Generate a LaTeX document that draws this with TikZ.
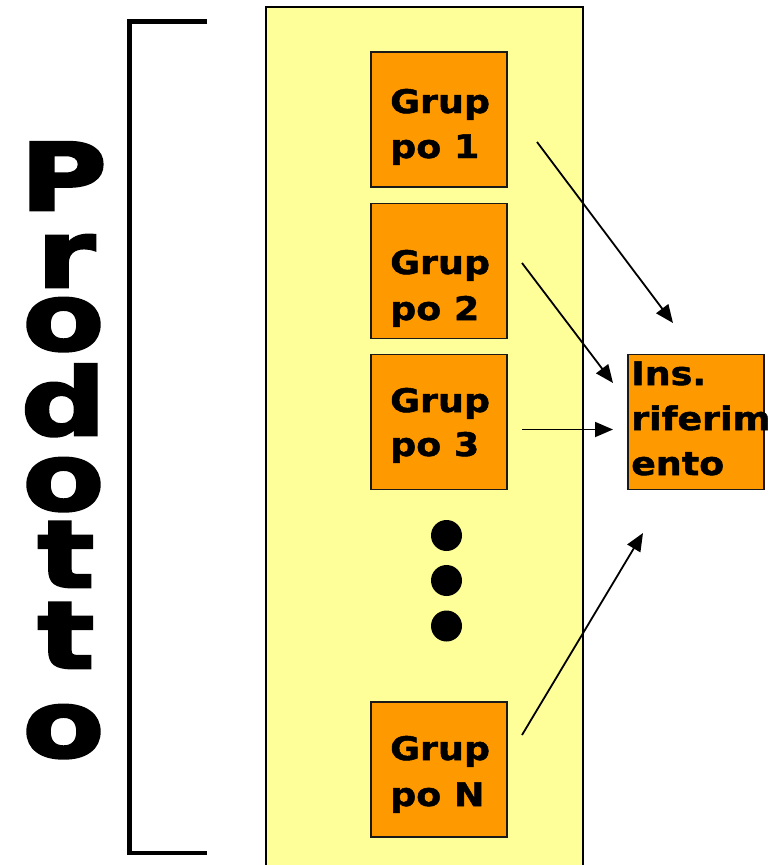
\documentclass[tikz,border=0pt]{standalone}
\usepackage{fontspec}
\setmainfont{DejaVu Sans}
\newfontfamily\boxfont{DejaVu Sans}[FakeStretch=1.12,FakeBold=1.5]
\newfontfamily\bigfont{DejaVu Sans}[FakeStretch=1.28,FakeBold=3]
\usetikzlibrary{arrows.meta}
\definecolor{panel}{HTML}{FFFF99}
\definecolor{grp}{HTML}{FF9900}
\begin{document}
\begin{tikzpicture}[x=1pt,y=-1pt,
  grpbox/.style={draw=black!90,line width=1.8pt,fill=grp,minimum width=136pt,minimum height=135pt,inner sep=0pt},
  txt/.style={font=\boxfont\bfseries\fontsize{32.5}{45}\selectfont,inner sep=0pt,anchor=base west},
  letter/.style={font=\bigfont\bfseries\fontsize{93}{93}\selectfont,inner sep=0pt,anchor=base,text depth=0pt},
  tall/.style={letter,text height=68pt},
  short/.style={letter,text height=52pt},
  dot/.style={circle,fill=black,minimum size=31pt,inner sep=0pt},
  arr/.style={line width=1.8pt,-{Triangle[length=18pt,width=15pt]}}]
\useasboundingbox (0,0) rectangle (777,865);
% bracket
\coordinate (bt) at (207,21.5);
\coordinate (btl) at (129.5,21.5);
\coordinate (bbl) at (129.5,853);
\coordinate (bb) at (207,853);
\draw[line width=4.5pt] (bt) -- (btl) -- (bbl) -- (bb);
% panel
\node[draw=black,line width=1.5pt,fill=panel,minimum width=317pt,minimum height=880pt,inner sep=0pt,anchor=north west] (panel) at (265,6) {};
% letters
\node[tall] (l1) at (63.5,210) {P};
\node[short] (l2) at (66,287) {r};
\node[short] (l3) at (63.5,350) {o};
\node[tall] (l4) at (63.5,435) {d};
\node[short] (l5) at (63.5,510) {o};
\node[short] (l6) at (66,587) {t};
\node[short] (l7) at (66,668) {t};
\node[short] (l8) at (63.5,757) {o};
% group boxes
\node[grpbox] (g1) at (439,119.5) {};
\node[grpbox] (g2) at (439,271) {};
\node[grpbox] (g3) at (439,422) {};
\node[grpbox] (gN) at (439,769.5) {};
\node[grpbox] (ins) at (696,422) {};
\node[txt] (g1a) at (390,113) {Grup};
\node[txt] (g1b) at (390,158) {po 1};
\node[txt] (g2a) at (390,274) {Grup};
\node[txt] (g2b) at (390,320) {po 2};
\node[txt] (g3a) at (390,412) {Grup};
\node[txt] (g3b) at (390,456) {po 3};
\node[txt] (gNa) at (390,760) {Grup};
\node[txt] (gNb) at (390,806) {po N};
\node[txt] (insa) at (631,385) {Ins.};
\node[txt] (insb) at (631,430) {riferim};
\node[txt] (insc) at (631,475) {ento};
% dots
\node[dot] (d1) at (446.5,535.5) {};
\node[dot] (d2) at (446.5,580.5) {};
\node[dot] (d3) at (446.5,626) {};
% arrows
\coordinate (s1) at (537,142);
\coordinate (e1) at (673,323);
\coordinate (s2) at (522,263);
\coordinate (e2) at (613,383);
\coordinate (s3) at (522,429.5);
\coordinate (e3) at (613,429.5);
\coordinate (sN) at (522,735);
\coordinate (eN) at (643,533);
\draw[arr] (s1) -- (e1);
\draw[arr] (s2) -- (e2);
\draw[arr] (s3) -- (e3);
\draw[arr] (sN) -- (eN);
\end{tikzpicture}
\end{document}
